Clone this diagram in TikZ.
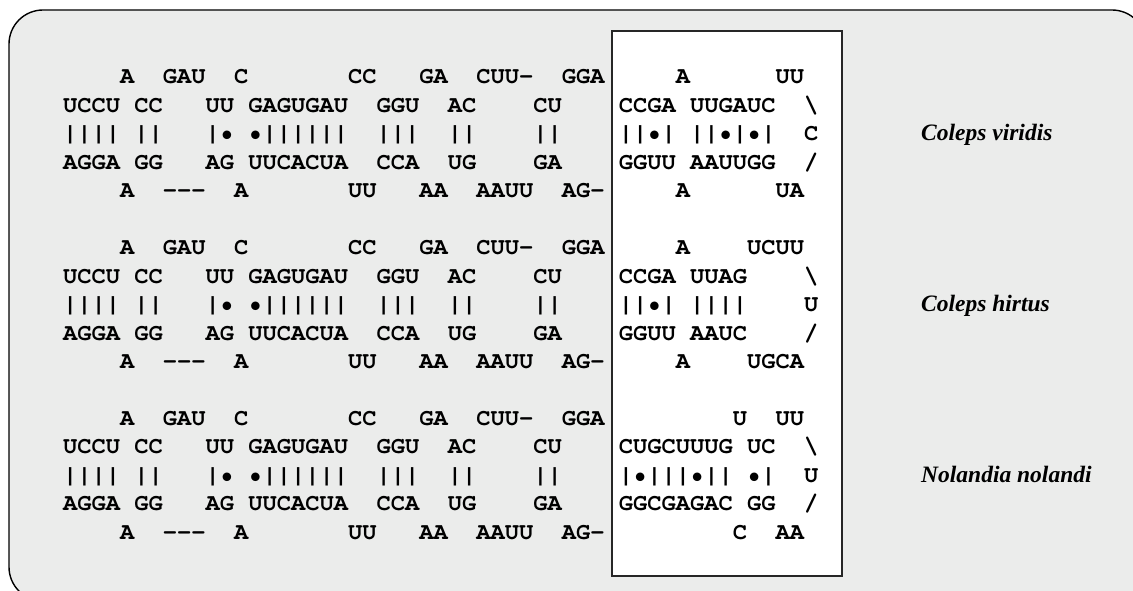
\documentclass[tikz,border=0pt]{standalone}
\usepackage{fontspec}
\setmainfont{Liberation Serif}
\newfontfamily\seqfont{TeX Gyre Cursor}
\definecolor{panelgray}{HTML}{EBECEB}
\newcommand\bwd{\textbackslash}
\newcommand\fwd{/}
\tikzset{
  seq/.style={font={\seqfont\bfseries\fontsize{23.75}{28}\selectfont}, anchor=base west, inner sep=0pt, outer sep=0pt},
  species/.style={font={\bfseries\itshape\fontsize{23.5}{28}\selectfont}, anchor=base west, inner sep=0pt},
  panel/.style={draw=black, line width=1.4pt, fill=panelgray, rounded corners=34pt},
  loopbox/.style={draw=black!85, line width=1.3pt, fill=white},
}
% one printed line of an alignment: entries are column/text
\newcommand\seqrow[2]{%
  \foreach \c/\t [count=\k] in {#2}{%
    \node[seq] (s#1-\k) at ({63+14.25*\c},{84+28.45*#1}) {\t};}}
\begin{document}
\begin{tikzpicture}[x=1pt,y=-1pt]
\useasboundingbox (0,0) rectangle (1133,591);
\clip (0,0) rectangle (1133,591);
\draw[panel] (9,10) rectangle (1146,601);
\draw[loopbox] (612,31) rectangle (842,576);

% Coleps viridis
\seqrow{0}{4/A, 7/GAU, 12/C, 20/CC, 25/GA, 29/CUU-, 35/GGA, 43/A, 50/UU}
\seqrow{1}{0/UCCU, 5/CC, 10/UU, 13/GAGUGAU, 22/GGU, 27/AC, 33/CU, 39/CCGA, 44/UUGAUC, 52/\bwd}
\seqrow{2}{0/||||, 5/||, 10/|•, 13/•||||||, 22/|||, 27/||, 33/||, 39/||•|, 44/||•|•|, 52/C}
\seqrow{3}{0/AGGA, 5/GG, 10/AG, 13/UUCACUA, 22/CCA, 27/UG, 33/GA, 39/GGUU, 44/AAUUGG, 52/\fwd}
\seqrow{4}{4/A, 7/-{}-{}-, 12/A, 20/UU, 25/AA, 29/AAUU, 35/AG-, 43/A, 50/UA}

% Coleps hirtus
\seqrow{6}{4/A, 7/GAU, 12/C, 20/CC, 25/GA, 29/CUU-, 35/GGA, 43/A, 48/UCUU}
\seqrow{7}{0/UCCU, 5/CC, 10/UU, 13/GAGUGAU, 22/GGU, 27/AC, 33/CU, 39/CCGA, 44/UUAG, 52/\bwd}
\seqrow{8}{0/||||, 5/||, 10/|•, 13/•||||||, 22/|||, 27/||, 33/||, 39/||•|, 44/||||, 52/U}
\seqrow{9}{0/AGGA, 5/GG, 10/AG, 13/UUCACUA, 22/CCA, 27/UG, 33/GA, 39/GGUU, 44/AAUC, 52/\fwd}
\seqrow{10}{4/A, 7/-{}-{}-, 12/A, 20/UU, 25/AA, 29/AAUU, 35/AG-, 43/A, 48/UGCA}

% Nolandia nolandi
\seqrow{12}{4/A, 7/GAU, 12/C, 20/CC, 25/GA, 29/CUU-, 35/GGA, 47/U, 50/UU}
\seqrow{13}{0/UCCU, 5/CC, 10/UU, 13/GAGUGAU, 22/GGU, 27/AC, 33/CU, 39/CUGCUUUG, 48/UC, 52/\bwd}
\seqrow{14}{0/||||, 5/||, 10/|•, 13/•||||||, 22/|||, 27/||, 33/||, 39/|•|||•||, 48/•|, 52/U}
\seqrow{15}{0/AGGA, 5/GG, 10/AG, 13/UUCACUA, 22/CCA, 27/UG, 33/GA, 39/GGCGAGAC, 48/GG, 52/\fwd}
\seqrow{16}{4/A, 7/-{}-{}-, 12/A, 20/UU, 25/AA, 29/AAUU, 35/AG-, 47/C, 50/AA}

% species names
\node[species] (sp1) at (921,{84+28.45*2}) {Coleps viridis};
\node[species] (sp2) at (921,{84+28.45*8}) {Coleps hirtus};
\node[species] (sp3) at (921,{84+28.45*14}) {Nolandia nolandi};
\end{tikzpicture}
\end{document}
